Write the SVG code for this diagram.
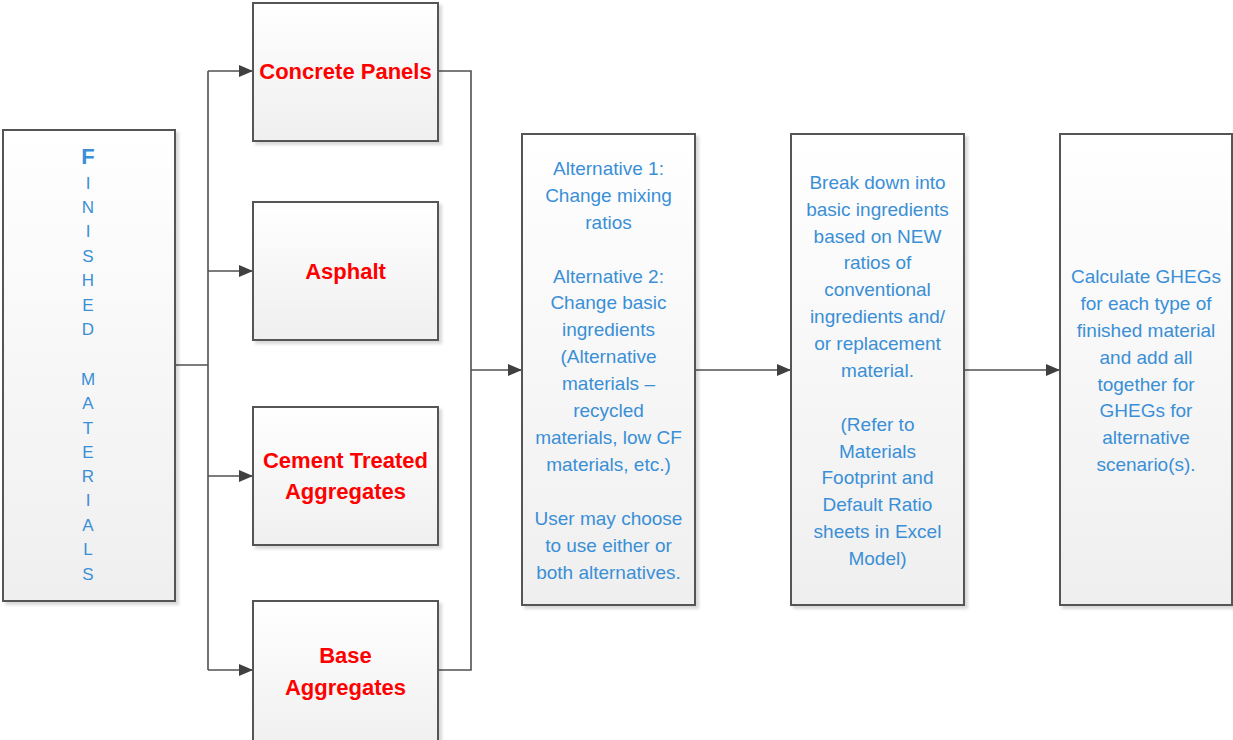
<svg xmlns="http://www.w3.org/2000/svg" width="1233" height="740" viewBox="0 0 1233 740">
  <defs>
    <linearGradient id="boxFill" x1="0" y1="0" x2="0" y2="1">
      <stop offset="0" stop-color="#ffffff"/>
      <stop offset="1" stop-color="#efefef"/>
    </linearGradient>
    <filter id="shadow" x="-5%" y="-5%" width="115%" height="115%">
      <feDropShadow dx="3" dy="3" stdDeviation="1.5" flood-color="#000" flood-opacity="0.15"/>
    </filter>
    <marker id="arrow" viewBox="0 0 14 12" refX="14" refY="6" markerWidth="14" markerHeight="12" markerUnits="userSpaceOnUse" orient="auto">
      <path d="M0,0 L14,6 L0,12 Z" fill="#404040"/>
    </marker>
  </defs>
  <style>
    .box { fill: url(#boxFill); stroke: #555555; stroke-width: 2; filter: url(#shadow); }
    .red { font-family: "Liberation Sans", Arial, sans-serif; font-weight: bold; font-size: 22px; fill: #ff0000; text-anchor: middle; }
    .blue { font-family: "Liberation Sans", Arial, sans-serif; font-size: 19px; fill: #3a8fd6; text-anchor: middle; }
    .vert { font-family: "Liberation Sans", Arial, sans-serif; font-size: 17px; fill: #3a8fd6; text-anchor: middle; }
    .conn { fill: none; stroke: #505050; stroke-width: 1.6; }
  </style>

  <rect width="1233" height="740" fill="#ffffff"/>

  <!-- connectors -->
  <g id="connectors">
    <polyline class="conn" points="175,365 208,365"/>
    <polyline class="conn" points="208,71 208,670"/>
    <line class="conn" x1="208" y1="71" x2="253" y2="71" marker-end="url(#arrow)"/>
    <line class="conn" x1="208" y1="271" x2="253" y2="271" marker-end="url(#arrow)"/>
    <line class="conn" x1="208" y1="476" x2="253" y2="476" marker-end="url(#arrow)"/>
    <line class="conn" x1="208" y1="670" x2="253" y2="670" marker-end="url(#arrow)"/>
    <polyline class="conn" points="438,71 471,71 471,670 438,670"/>
    <line class="conn" x1="471" y1="370" x2="522" y2="370" marker-end="url(#arrow)"/>
    <line class="conn" x1="695" y1="370" x2="791" y2="370" marker-end="url(#arrow)"/>
    <line class="conn" x1="964" y1="370" x2="1060" y2="370" marker-end="url(#arrow)"/>
  </g>

  <!-- finished materials -->
  <g id="finished-materials">
    <rect class="box" x="3" y="130" width="172" height="471"/>
    <text class="vert" x="88" y="164" style="font-size:22px;font-weight:bold">F</text>
    <text class="vert" x="88" y="189">I</text>
    <text class="vert" x="88" y="213">N</text>
    <text class="vert" x="88" y="237">I</text>
    <text class="vert" x="88" y="262">S</text>
    <text class="vert" x="88" y="286">H</text>
    <text class="vert" x="88" y="311">E</text>
    <text class="vert" x="88" y="335">D</text>
    <text class="vert" x="88" y="385">M</text>
    <text class="vert" x="88" y="409">A</text>
    <text class="vert" x="88" y="434">T</text>
    <text class="vert" x="88" y="458">E</text>
    <text class="vert" x="88" y="482">R</text>
    <text class="vert" x="88" y="506">I</text>
    <text class="vert" x="88" y="531">A</text>
    <text class="vert" x="88" y="555">L</text>
    <text class="vert" x="88" y="580">S</text>
  </g>

  <g id="concrete-panels">
    <rect class="box" x="253" y="3" width="185" height="138"/>
    <text class="red" x="345.5" y="79">Concrete Panels</text>
  </g>

  <g id="asphalt">
    <rect class="box" x="253" y="202" width="185" height="138"/>
    <text class="red" x="345.5" y="279">Asphalt</text>
  </g>

  <g id="cement-treated-aggregates">
    <rect class="box" x="253" y="407" width="185" height="138"/>
    <text class="red" x="345.5" y="468">Cement Treated</text>
    <text class="red" x="345.5" y="499">Aggregates</text>
  </g>

  <g id="base-aggregates">
    <rect class="box" x="253" y="601" width="185" height="150"/>
    <text class="red" x="345.5" y="663">Base</text>
    <text class="red" x="345.5" y="695">Aggregates</text>
  </g>

  <g id="alternatives">
    <rect class="box" x="522" y="134" width="173" height="471"/>
    <text class="blue" x="608.5" y="175">Alternative 1:</text>
    <text class="blue" x="608.5" y="202">Change mixing</text>
    <text class="blue" x="608.5" y="229">ratios</text>
    <text class="blue" x="608.5" y="283">Alternative 2:</text>
    <text class="blue" x="608.5" y="309">Change basic</text>
    <text class="blue" x="608.5" y="336">ingredients</text>
    <text class="blue" x="608.5" y="363">(Alternative</text>
    <text class="blue" x="608.5" y="390">materials –</text>
    <text class="blue" x="608.5" y="417">recycled</text>
    <text class="blue" x="608.5" y="444">materials, low CF</text>
    <text class="blue" x="608.5" y="471">materials, etc.)</text>
    <text class="blue" x="608.5" y="525">User may choose</text>
    <text class="blue" x="608.5" y="552">to use either or</text>
    <text class="blue" x="608.5" y="579">both alternatives.</text>
  </g>

  <g id="break-down">
    <rect class="box" x="791" y="134" width="173" height="471"/>
    <text class="blue" x="877.5" y="189">Break down into</text>
    <text class="blue" x="877.5" y="216">basic ingredients</text>
    <text class="blue" x="877.5" y="243">based on NEW</text>
    <text class="blue" x="877.5" y="269">ratios of</text>
    <text class="blue" x="877.5" y="296">conventional</text>
    <text class="blue" x="877.5" y="323">ingredients and/</text>
    <text class="blue" x="877.5" y="350">or replacement</text>
    <text class="blue" x="877.5" y="377">material.</text>
    <text class="blue" x="877.5" y="431">(Refer to</text>
    <text class="blue" x="877.5" y="458">Materials</text>
    <text class="blue" x="877.5" y="484">Footprint and</text>
    <text class="blue" x="877.5" y="511">Default Ratio</text>
    <text class="blue" x="877.5" y="538">sheets in Excel</text>
    <text class="blue" x="877.5" y="565">Model)</text>
  </g>

  <g id="calculate">
    <rect class="box" x="1060" y="134" width="172" height="471"/>
    <text class="blue" x="1146" y="283">Calculate GHEGs</text>
    <text class="blue" x="1146" y="310">for each type of</text>
    <text class="blue" x="1146" y="337">finished material</text>
    <text class="blue" x="1146" y="364">and add all</text>
    <text class="blue" x="1146" y="391">together for</text>
    <text class="blue" x="1146" y="417">GHEGs for</text>
    <text class="blue" x="1146" y="444">alternative</text>
    <text class="blue" x="1146" y="471">scenario(s).</text>
  </g>
</svg>
